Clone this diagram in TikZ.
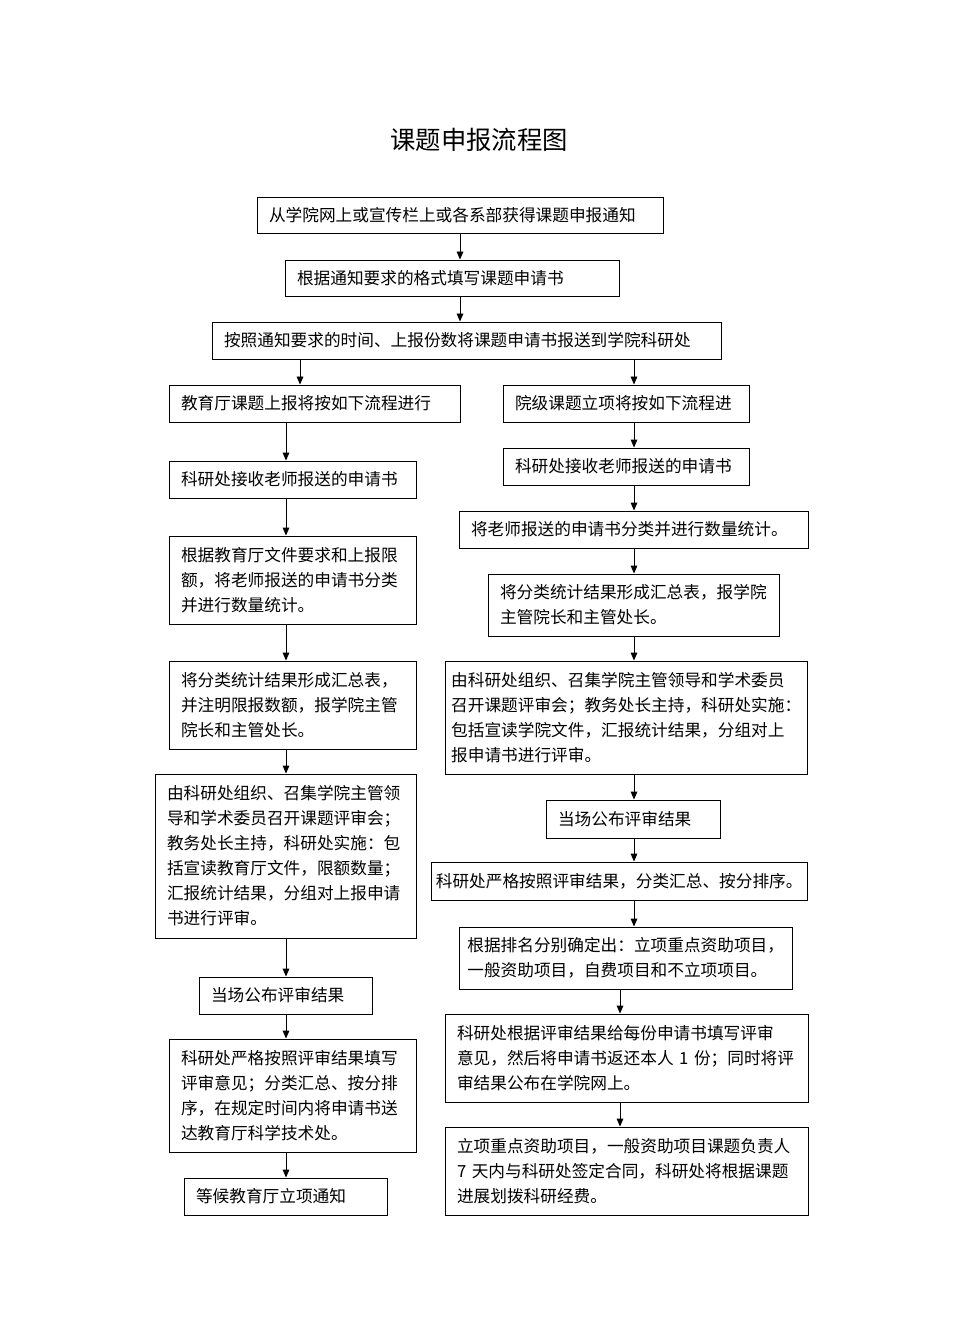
\documentclass[tikz,border=0pt]{standalone}
\usepackage{fontspec}
\setmainfont{Noto Sans CJK SC}
\usetikzlibrary{arrows.meta,positioning}
\newcommand\boxfont{\fontsize{12.5pt}{18.75pt}\selectfont}
\newcommand\ttlfont{\fontsize{19pt}{22pt}\selectfont}
\tikzset{
  proc/.style={rectangle, draw, line width=0.7pt, inner xsep=9pt, inner ysep=2pt, align=left, font=\boxfont, minimum height=27.75pt},
  ttl/.style={font=\ttlfont},
  arr/.style={-{Triangle[length=6pt,width=5pt]}, line width=0.7pt},
}
\begin{document}
\begin{tikzpicture}[x=0.75pt, y=-0.75pt]
  \useasboundingbox (0,0) rectangle (956,1326);

  %% === Title ===
  \node[ttl] (title) at (479,140) {课题申报流程图};

  %% === Common steps (top) ===
  \node[proc, text width=286.5pt, minimum height=27pt] (T1) at (460,215) {从学院网上或宣传栏上或各系部获得课题申报通知};
  \node[proc, text width=232.5pt, minimum height=27pt] (T2) at (452,278) {根据通知要求的格式填写课题申请书};
  \node[proc, text width=363.75pt] (T3) at (466.5,340.5) {按照通知要求的时间、上报份数将课题申请书报送到学院科研处};

  %% === Left branch ===
  \node[proc, text width=200.25pt] (L4) at (314.5,403.5) {教育厅课题上报将按如下流程进行};
  \node[proc, text width=167.25pt] (L5) at (292.5,479.5) {科研处接收老师报送的申请书};
  \node[proc, text width=167.25pt, minimum height=66pt] (L6) at (292.5,580) {根据教育厅文件要求和上报限\\额，将老师报送的申请书分类\\并进行数量统计。};
  \node[proc, text width=167.25pt, minimum height=66pt] (L7) at (292.5,705) {将分类统计结果形成汇总表，\\并注明限报数额，报学院主管\\院长和主管处长。};
  \node[proc, text width=177.75pt, minimum height=123pt] (L8) at (285.5,856) {由科研处组织、召集学院主管领\\导和学术委员召开课题评审会；\\教务处长主持，科研处实施：包\\括宣读教育厅文件，限额数量；\\汇报统计结果，分组对上报申请\\书进行评审。};
  \node[proc, text width=111.75pt] (L9) at (285.5,995.5) {当场公布评审结果};
  \node[proc, text width=167.25pt, minimum height=84.75pt] (L10) at (292.5,1095.5) {科研处严格按照评审结果填写\\评审意见；分类汇总、按分排\\序，在规定时间内将申请书送\\达教育厅科学技术处。};
  \node[proc, text width=134.25pt] (L11) at (285.5,1196.5) {等候教育厅立项通知};

  %% === Right branch ===
  \node[proc, text width=166.5pt] (R4) at (626,403.5) {院级课题立项将按如下流程进};
  \node[proc, text width=166.5pt] (R5) at (626,466.5) {科研处接收老师报送的申请书};
  \node[proc, text width=243.75pt] (R6) at (633.5,529.5) {将老师报送的申请书分类并进行数量统计。};
  \node[proc, text width=200.25pt, minimum height=46.5pt] (R7) at (633.5,605) {将分类统计结果形成汇总表，报学院\\主管院长和主管处长。};
  \node[proc, inner xsep=4.5pt, text width=263pt, minimum height=84.75pt] (R8) at (626.5,717.5) {由科研处组织、召集学院主管领导和学术委员\\召开课题评审会；教务处长主持，科研处实施：\\包括宣读学院文件，汇报统计结果，分组对上\\报申请书进行评审。};
  \node[proc, text width=112.5pt, minimum height=28.5pt] (R9) at (633,819) {当场公布评审结果};
  \node[proc, inner xsep=3.5pt, text width=275.5pt, minimum height=28.5pt] (R10) at (619.5,881) {科研处严格按照评审结果，分类汇总、按分排序。};
  \node[proc, inner xsep=6pt, text width=238pt, minimum height=46.5pt] (R11) at (626,958) {根据排名分别确定出：立项重点资助项目，\\一般资助项目，自费项目和不立项项目。};
  \node[proc, text width=254.25pt, minimum height=66pt] (R12) at (626.5,1058) {科研处根据评审结果给每份申请书填写评审\\意见，然后将申请书返还本人 1 份；同时将评\\审结果公布在学院网上。};
  \node[proc, text width=254.25pt, minimum height=66pt] (R13) at (626.5,1171) {立项重点资助项目，一般资助项目课题负责人\\7 天内与科研处签定合同，科研处将根据课题\\进展划拨科研经费。};

  %% === Arrows ===
  \coordinate (xT) at (460,0);
  \coordinate (xL1) at (300,0);
  \coordinate (xL) at (286,0);
  \coordinate (xR) at (634,0);
  \coordinate (xR2) at (620,0);

  \draw[arr] (T1.south -| xT) -- (T2.north -| xT);
  \draw[arr] (T2.south -| xT) -- (T3.north -| xT);
  \draw[arr] (T3.south -| xL1) -- (L4.north -| xL1);
  \draw[arr] (T3.south -| xR) -- (R4.north -| xR);

  \foreach \a/\b in {L4/L5,L5/L6,L6/L7,L7/L8,L8/L9,L9/L10,L10/L11}
    \draw[arr] (\a.south -| xL) -- (\b.north -| xL);
  \foreach \a/\b in {R4/R5,R5/R6,R6/R7,R7/R8,R8/R9,R9/R10,R10/R11}
    \draw[arr] (\a.south -| xR) -- (\b.north -| xR);
  \foreach \a/\b in {R11/R12,R12/R13}
    \draw[arr] (\a.south -| xR2) -- (\b.north -| xR2);
\end{tikzpicture}
\end{document}
